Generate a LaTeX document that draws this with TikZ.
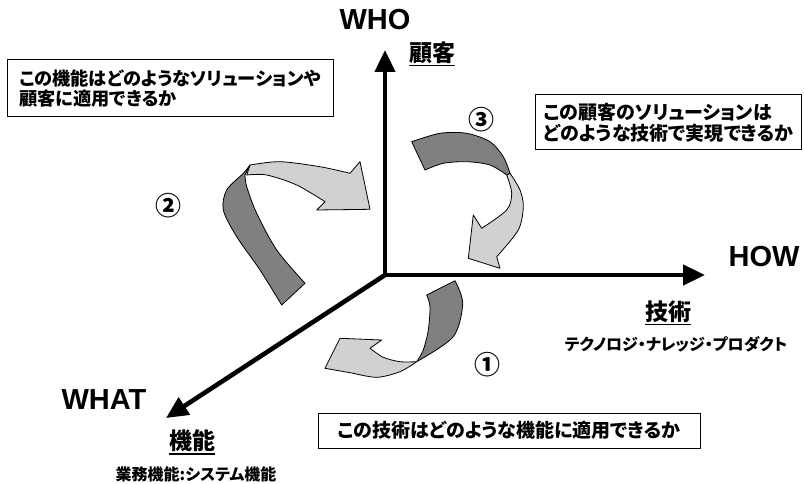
\documentclass[tikz,border=0pt]{standalone}
\usepackage{fontspec}
\setmainfont{Liberation Sans}
\newfontfamily\jp[RawFeature=+palt]{Noto Sans CJK JP}
\usetikzlibrary{arrows.meta}
\begin{document}
\begin{tikzpicture}[x=1pt,y=-1pt,
  axisline/.style={line width=4.6pt,-{Triangle[width=20pt,length=22pt]}},
  qbox/.style={draw,line width=1pt,font=\jp\bfseries\fontsize{19}{21}\selectfont,align=left,inner xsep=8pt,inner ysep=5pt},
  latlab/.style={font=\bfseries\fontsize{29}{32}\selectfont,inner sep=0pt},
  jplab/.style={font=\jp\bfseries\fontsize{23}{26}\selectfont,inner sep=0pt},
  subcap/.style={font=\jp\bfseries\fontsize{16}{18}\selectfont,inner sep=0pt},
  numlab/.style={font=\jp\bfseries\fontsize{26}{26}\selectfont,inner sep=0pt},
  darkpart/.style={fill=black!50,draw=black,line width=0.8pt,line join=round},
  lightpart/.style={fill=black!18,draw=black,line width=0.8pt,line join=round},
  uline/.style={line width=1.4pt}
]
\useasboundingbox (0,0) rectangle (804,484);

% axes
\coordinate (O) at (385,275);
\coordinate (Oup) at (385,277);
\coordinate (whotip) at (385,50);
\coordinate (howtip) at (705,275);
\coordinate (whattip) at (166,418);
\draw[axisline] (Oup) -- (whotip);
\draw[axisline] ([xshift=-2pt]O) -- (howtip);
\draw[axisline] (O) -- (whattip);

% axis labels
\node[latlab] (who) at (375,20) {WHO};
\node[latlab] (how) at (764,257) {HOW};
\node[latlab] (what) at (104,400) {WHAT};

\node[jplab] (kokyaku) at (432,53) {顧客};
\draw[uline] ([yshift=-4pt]kokyaku.base west) -- ([yshift=-4pt]kokyaku.base east);
\node[jplab] (gijutsu) at (668,312) {技術};
\draw[uline] ([yshift=-4pt]gijutsu.base west) -- ([yshift=-4pt]gijutsu.base east);
\node[jplab] (kinou) at (192,441) {機能};
\draw[uline] ([yshift=-4pt]kinou.base west) -- ([yshift=-4pt]kinou.base east);

\node[subcap] (sub1) at (196,474) {業務機能:システム機能};
\node[subcap] (sub2) at (676,344) {テクノロジ・ナレッジ・プロダクト};

% question boxes
\node[qbox,font=\jp\bfseries\fontsize{18.2}{20.5}\selectfont,minimum width=326pt,minimum height=57pt] (q1) at (170,88.5) {この機能はどのようなソリューションや\\顧客に適用できるか};
\node[qbox,minimum width=266pt,minimum height=55pt] (q2) at (668.5,122.5) {この顧客のソリューションは\\どのような技術で実現できるか};
\node[qbox,minimum width=382pt,minimum height=35pt] (q3) at (509,430.5) {この技術はどのような機能に適用できるか};

% circled numbers
\node[numlab] (n1) at (487,365) {①};
\node[numlab] (n2) at (168,206) {②};
\node[numlab] (n3) at (481,120) {③};

% arrow 2 (upper left)
\path[darkpart] (281.7,305) -- plot[smooth] coordinates {(281.7,305) (260,270) (236.7,236.7) (223.3,210) (226.7,190) (243.3,173.3) (250,165)}
  -- plot[smooth] coordinates {(245,175) (246.7,186.7) (256.7,213.3) (276.7,250) (305,283.3)} -- cycle;
\path[lightpart] (250,165) -- plot[smooth] coordinates {(250,165) (280,161.7) (320,166.7) (350,173.3)}
  -- (360,161.7) -- (370,209.3) -- (316.7,210) -- (325,201.7)
  -- plot[smooth] coordinates {(325,201.7) (296.7,185) (266.7,175) (246.7,175)} -- cycle;

% arrow 3 (upper right)
\path[darkpart] (411.7,141.7) -- plot[smooth] coordinates {(411.7,141.7) (440,133.3) (466.7,133.3) (490,141.7) (503.3,156.7) (510,173.3)}
  -- plot[smooth] coordinates {(506.7,175) (490,165) (466.7,161.7) (443.3,163.3) (425,170)} -- cycle;
\path[lightpart] (510,173.3) -- plot[smooth] coordinates {(510,173.3) (520,190) (523.3,206.7) (518.3,230) (496.7,256.7)}
  -- (500,268.3) -- (468.3,258.3) -- (473.3,215) -- (481.7,228.3)
  -- plot[smooth] coordinates {(481.7,228.3) (506.7,210) (511.7,193.3) (506.7,175)} -- cycle;

% arrow 1 (lower)
\path[darkpart] (426.7,295) -- (455,280.7)
  -- plot[smooth] coordinates {(455,280.7) (462.7,303.3) (453.3,336.7) (416.7,361.7)}
  -- plot[smooth] coordinates {(416.7,361.7) (423.3,350) (428.3,330) (430,306.7) (426.7,295)} -- cycle;
\path[lightpart] (416.7,361.7) -- plot[smooth] coordinates {(416.7,361.7) (400,361.7) (383.3,357.3) (370,348.3)}
  -- (381.7,340) -- (340,338.3) -- (325,368.3)
  -- plot[smooth] coordinates {(325,368.3) (350,372.7) (376.7,377.3) (400,371.7) (416.7,361.7)} -- cycle;
\end{tikzpicture}
\end{document}
